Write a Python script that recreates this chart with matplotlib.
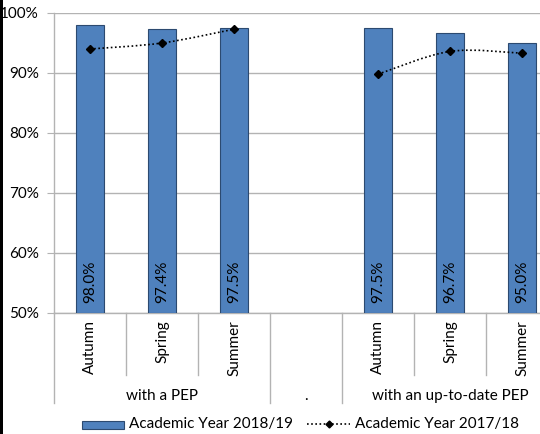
import numpy as np
import matplotlib
matplotlib.use("Agg")
import matplotlib.pyplot as plt
from matplotlib.path import Path
from matplotlib.patches import PathPatch, Rectangle
from matplotlib.lines import Line2D
import matplotlib.transforms as mtransforms

plt.rcParams['font.family'] = ['Lato', 'DejaVu Sans']

seasons = ["Autumn", "Spring", "Summer", "", "Autumn", "Spring", "Summer"]
groups = ["with a PEP", ".", "with an up-to-date PEP"]
group_spans = [(0, 3), (3, 4), (4, 7)]
year_1819 = [98.0, 97.4, 97.5, np.nan, 97.5, 96.7, 95.0]
year_1718 = [94.0, 95.0, 97.3, np.nan, 89.8, 93.6, 93.3]
bar_labels = ["98.0%", "97.4%", "97.5%", "", "97.5%", "96.7%", "95.0%"]
yticks = [50, 60, 70, 80, 90, 100]

W, H = 540, 434
BLUE = "#4f81bd"
GRID = "#b3b3b3"
FS = 11


def fx(px):
    return px / W


def fy(py):
    return 1 - py / H


fig = plt.figure(figsize=(W / 100, H / 100), dpi=100)
ax = fig.add_axes([fx(54), fy(313), 504 / W, 300 / H])

x = np.arange(len(seasons))
ax.bar(x, np.array(year_1819) - 50, bottom=50, width=0.4, color=BLUE,
       edgecolor="#2c4a70", linewidth=0.8, zorder=3)


def smooth_path(xs, ys):
    # excel-like smoothed line as cubic bezier through the points
    pts = np.column_stack([xs, ys])
    verts = [pts[0]]
    codes = [Path.MOVETO]
    n = len(pts)
    for i in range(n - 1):
        p0 = pts[i - 1] if i > 0 else pts[i]
        p1, p2 = pts[i], pts[i + 1]
        p3 = pts[i + 2] if i + 2 < n else pts[i + 1]
        c1 = p1 + (p2 - p0) / 6
        c2 = p2 - (p3 - p1) / 6
        verts += [c1, c2, p2]
        codes += [Path.CURVE4] * 3
    return Path(verts, codes)


for a, b in [(0, 3), (4, 7)]:
    p = smooth_path(x[a:b], year_1718[a:b])
    ax.add_patch(PathPatch(p, fill=False, edgecolor="black", linestyle=(0, (1, 1.5)),
                           linewidth=1.2, zorder=4))
ax.plot(x, year_1718, linestyle="none", marker="D", markersize=4, color="black", zorder=5)

for xi, lab in zip(x, bar_labels):
    ax.annotate(lab, (xi, 50), xytext=(0, 7), textcoords="offset points", rotation=90,
                ha="center", va="bottom", fontsize=FS, zorder=6)

ax.set_xlim(-0.5, len(seasons) - 0.5)
ax.set_ylim(50, 100)
ax.set_yticks(yticks)
ax.set_yticklabels([f"{v}%" for v in yticks], fontsize=FS)
ax.yaxis.grid(True, color=GRID, linewidth=1, zorder=0)
ax.set_axisbelow(True)
ax.tick_params(axis="y", length=5, color=GRID, pad=6)
ax.set_xticks([])
for s in ["top", "right"]:
    ax.spines[s].set_visible(False)
for s in ["left", "bottom"]:
    ax.spines[s].set_color(GRID)
    ax.spines[s].set_linewidth(1)

# multi-level category axis
trans = mtransforms.blended_transform_factory(ax.transData, ax.transAxes)
short_d = -(375 - 313) / 300
long_d = -(403 - 313) / 300
for xi, s in zip(x, seasons):
    if s:
        ax.text(xi, -(320 - 313) / 300, s, transform=trans, rotation=90, ha="center",
                va="top", fontsize=FS)
group_edges = set()
for a, b in group_spans:
    group_edges.update([a - 0.5, b - 0.5])
for i in range(len(seasons) + 1):
    xe = i - 0.5
    d = long_d if xe in group_edges else short_d
    ax.add_line(Line2D([xe, xe], [0, d], transform=trans, color=GRID, linewidth=1,
                       clip_on=False))
for g, (a, b) in zip(groups, group_spans):
    ax.text((a + b - 1) / 2, -(396 - 313) / 300, g, transform=trans, ha="center",
            va="center", fontsize=FS)

# legend
fig.patches.append(Rectangle((fx(82), fy(429)), fx(124) - fx(82), fy(421) - fy(429),
                             transform=fig.transFigure, facecolor=BLUE,
                             edgecolor="#2c4a70", linewidth=0.8))
fig.text(fx(129), fy(424), "Academic Year 2018/19", fontsize=FS, va="center")
fig.lines.append(Line2D([fx(307), fx(350)], [fy(424), fy(424)], transform=fig.transFigure,
                        color="black", linestyle=(0, (1, 1.5)), linewidth=1.2))
fig.lines.append(Line2D([fx(329)], [fy(424)], transform=fig.transFigure, color="black",
                        marker="D", markersize=3.5))
fig.text(fx(355), fy(424), "Academic Year 2017/18", fontsize=FS, va="center")

# dark strip at left edge of the original screenshot
fig.patches.append(Rectangle((0, 0), fx(3), 1, transform=fig.transFigure,
                             facecolor="black", edgecolor="none"))

fig.savefig("out.png", dpi=100)
